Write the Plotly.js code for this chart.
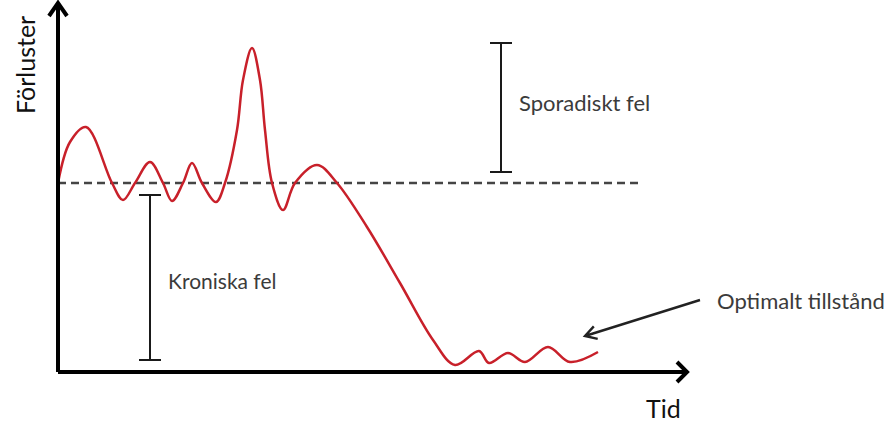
<!DOCTYPE html>
<html>
<head>
<meta charset="utf-8">
<script src="https://cdn.plot.ly/plotly-3.0.1.min.js"></script>
<style>
  html, body { margin: 0; padding: 0; background: #ffffff; }
  #chart { width: 892px; height: 428px; }
</style>
</head>
<body>
<div id="chart"></div>
<script>
// ---- Data (time units along x, loss units along y) ----
const time = [0, 12, 28, 54, 65, 77, 92, 105, 114, 125, 134, 144, 158, 167, 179, 185, 194, 202, 207, 214,
              225, 237, 259, 279, 309, 342, 375, 397, 421, 431, 450, 467, 490, 512, 540];
const losses = [189, 230, 245, 189, 172, 189, 210, 189, 171, 189, 209, 189, 170, 189, 242, 292, 324, 292, 242, 189,
                162, 189, 207, 189, 145, 89, 32, 7, 21, 9, 19, 10, 25, 10, 20];

// chronic loss level (dashed line)
const chronicLevel = 189;
const chronicLineEnd = 582;

// range bars: [time, low, high]
const chronicBar = { t: 92, low: 12, high: 177 };
const sporadicBar = { t: 443, low: 200, high: 329 };

// labels
const labels = {
  yTitle: "Förluster",
  xTitle: "Tid",
  sporadic: "Sporadiskt fel",
  chronic: "Kroniska fel",
  optimal: "Optimalt tillstånd"
};

// axes extents
const xAxisEnd = 629;
const yAxisEnd = 369;

const textColor = "#3b3b3b";
const font = "Lato, 'Open Sans', sans-serif";

function barTrace(b) {
  const mid = (b.low + b.high) / 2;
  const half = (b.high - b.low) / 2;
  return {
    x: [b.t], y: [mid], type: "scatter", mode: "markers",
    marker: { size: 1, color: "rgba(0,0,0,0)" },
    error_y: { type: "data", array: [half], symmetric: true, color: "#1a1a1a", thickness: 2, width: 11 },
    hoverinfo: "skip", showlegend: false, cliponaxis: false
  };
}

const traces = [
  {
    x: [0, chronicLineEnd], y: [chronicLevel, chronicLevel],
    type: "scatter", mode: "lines",
    line: { color: "#454545", width: 2.6, dash: "8px,5px" },
    hoverinfo: "skip", showlegend: false
  },
  {
    x: time, y: losses, type: "scatter", mode: "lines",
    line: { color: "#c8202a", width: 2.5, shape: "spline", smoothing: 1 },
    hoverinfo: "skip", showlegend: false, cliponaxis: false
  },
  barTrace(chronicBar),
  barTrace(sporadicBar)
];

const axisLine = { color: "#000000", width: 4 };
const shapes = [
  { type: "path", xref: "x", yref: "y", layer: "above",
    path: `M 0 0 L 0 ${yAxisEnd} M -9 ${yAxisEnd - 13} L 0 ${yAxisEnd} L 9 ${yAxisEnd - 13}`,
    line: axisLine },
  { type: "path", xref: "x", yref: "y", layer: "above",
    path: `M 0 0 L ${xAxisEnd} 0 M ${xAxisEnd - 10} 10 L ${xAxisEnd} 0 L ${xAxisEnd - 10} -10`,
    line: axisLine },
  // pointer arrow to the optimal state
  { type: "path", xref: "x", yref: "y", layer: "above",
    path: "M 642 72 L 527 36 M 539.7 33.2 L 527 36 L 535.8 45.6",
    line: { color: "#222222", width: 2.4 } }
];

const annotations = [
  { x: 459, y: 270, xref: "x", yref: "y", text: labels.sporadic, showarrow: false,
    xanchor: "left", yanchor: "middle", font: { family: font, size: 22, color: textColor } },
  { x: 108, y: 92, xref: "x", yref: "y", text: labels.chronic, showarrow: false,
    xanchor: "left", yanchor: "middle", font: { family: font, size: 21, color: textColor } },
  { x: 657, y: 72, xref: "x", yref: "y", text: labels.optimal, showarrow: false,
    xanchor: "left", yanchor: "middle", font: { family: font, size: 22, color: textColor } },
  { x: 605, y: -36, xref: "x", yref: "y", text: labels.xTitle, showarrow: false,
    xanchor: "center", yanchor: "middle", font: { family: font, size: 25, color: "#111111" } },
  { x: -33, y: 307, xref: "x", yref: "y", text: labels.yTitle, showarrow: false, textangle: -90,
    xanchor: "center", yanchor: "middle", font: { family: font, size: 25, color: "#111111" } }
];

const layout = {
  width: 892, height: 428,
  margin: { l: 0, r: 0, t: 0, b: 0, pad: 0 },
  paper_bgcolor: "#ffffff", plot_bgcolor: "#ffffff",
  xaxis: { range: [-58, 834], visible: false, fixedrange: true },
  yaxis: { range: [-56, 372], visible: false, fixedrange: true },
  showlegend: false,
  shapes: shapes,
  annotations: annotations
};

Plotly.newPlot("chart", traces, layout, { staticPlot: true, displayModeBar: false });
</script>
</body>
</html>
